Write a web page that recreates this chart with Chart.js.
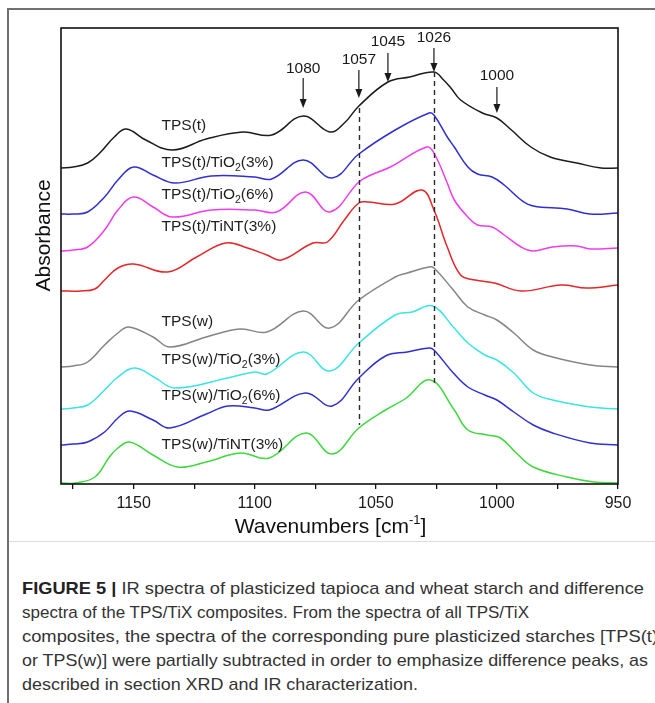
<!DOCTYPE html>
<html><head><meta charset="utf-8">
<script src="https://cdn.jsdelivr.net/npm/chart.js@4.4.1/dist/chart.umd.min.js"></script>
<style>
html,body{margin:0;padding:0;background:#fff;}
#wrap{position:relative;width:655px;height:703px;overflow:hidden;background:#fff;}
#frameTop{position:absolute;left:7px;top:8px;width:648px;height:2px;background:#707070;}
#frameLeft{position:absolute;left:7px;top:8px;width:2px;height:695px;background:#707070;}
#sep{position:absolute;left:9px;top:541px;width:646px;height:1px;background:#dcdcdc;}
#chartBox{position:absolute;left:0;top:0;width:655px;height:560px;}
.cap{position:absolute;left:22px;font-family:'Liberation Sans',Arial,sans-serif;font-size:17px;line-height:24px;color:#333;white-space:nowrap;transform-origin:0 50%;}
.cap b{font-weight:bold;color:#222;}
</style></head>
<body>
<div id="wrap">
  <div id="frameTop"></div><div id="frameLeft"></div><div id="sep"></div>
  <div id="chartBox"><canvas id="c" width="655" height="560"></canvas></div>
  <div class="cap" id="l1" data-w="622" style="top:577px"><b>FIGURE 5 |</b> IR spectra of plasticized tapioca and wheat starch and difference</div>
  <div class="cap" id="l2" data-w="507" style="top:601px">spectra of the TPS/TiX composites. From the spectra of all TPS/TiX</div>
  <div class="cap" id="l3" data-w="636" style="top:625px">composites, the spectra of the corresponding pure plasticized starches [TPS(t)</div>
  <div class="cap" id="l4" data-w="626" style="top:649px">or TPS(w)] were partially subtracted in order to emphasize difference peaks, as</div>
  <div class="cap" id="l5" data-w="396" style="top:673px">described in section XRD and IR characterization.</div>
</div>
<script>
// ---- data (wavenumber in cm-1, absorbance in offset arbitrary units) ----
const tpsT_wn = [1180,1175,1169,1164,1158,1153,1145,1134,1120,1105,1093,1080,1069,1063,1057,1045,1036,1026,1022,1019,1015,1006,1000,994,986,978,967,957,950];
const tpsT_ab = [3.16,3.17,3.21,3.31,3.47,3.55,3.44,3.34,3.45,3.52,3.49,3.68,3.52,3.61,3.78,4.02,4.07,4.12,4.04,3.96,3.84,3.71,3.66,3.54,3.37,3.27,3.21,3.16,3.16];

const tpsTTiO3_wn = [1180,1175,1169,1162,1156.5,1150,1142,1133,1118,1100,1093,1080,1068,1057,1042,1028,1026,1020.5,1017.6,1012,1008,1002,997,990,985,971,961.5,950];
const tpsTTiO3_ab = [2.70,2.70,2.72,2.87,3.04,3.17,3.09,3.01,3.08,3.07,3.05,3.24,3.06,3.30,3.54,3.71,3.69,3.47,3.37,3.17,3.10,3.07,2.99,2.84,2.78,2.75,2.70,2.71];

const tpsTTiO6_wn = [1180,1175,1169,1162,1156.5,1150,1142,1134,1118,1100,1091,1079,1069,1057,1052,1044,1029,1026,1020.5,1017.6,1012,1008,1002,997,990,985,977,967,961.5,950];
const tpsTTiO6_ab = [2.33,2.34,2.37,2.54,2.74,2.87,2.77,2.67,2.74,2.74,2.72,2.92,2.72,3.02,3.09,3.17,3.37,3.31,3.01,2.84,2.67,2.59,2.57,2.49,2.37,2.33,2.37,2.38,2.35,2.36];

const tpsTTiNT_wn = [1180,1172,1166,1162,1156.5,1150,1136,1124,1112,1103,1095,1089,1076,1070,1063,1057,1053,1042,1031,1026,1020.5,1015,1009,1001,990,973.5,963,950];
const tpsTTiNT_ab = [1.93,1.93,1.95,2.04,2.16,2.20,2.12,2.27,2.41,2.36,2.29,2.24,2.41,2.42,2.64,2.81,2.82,2.80,2.94,2.74,2.37,2.09,2.04,2.01,1.93,1.99,1.96,1.99];

const tpsW_wn = [1180,1175,1169,1162,1156.5,1152,1142,1135,1120,1106,1095,1080,1069,1057,1042,1037,1028,1026,1018,1012,1005,1000,993,985,977,961.5,950];
const tpsW_ab = [1.17,1.18,1.22,1.39,1.51,1.57,1.47,1.37,1.47,1.55,1.52,1.73,1.56,1.84,2.07,2.11,2.17,2.16,1.94,1.77,1.69,1.64,1.51,1.34,1.27,1.19,1.17];

const tpsWTiO3_wn = [1180,1175,1169,1162,1156.5,1149.5,1141,1133,1109.5,1100,1095,1080,1069,1057,1042,1035,1026.5,1018,1012,1005,1000,993,985,977,961.5,950];
const tpsWTiO3_ab = [0.75,0.76,0.79,0.94,1.07,1.16,1.06,0.96,1.07,1.12,1.10,1.32,1.13,1.41,1.69,1.72,1.78,1.57,1.41,1.29,1.24,1.11,0.91,0.84,0.77,0.75];

const tpsWTiO6_wn = [1180,1175,1169,1162,1156.5,1151.6,1142,1135,1120,1111,1100,1094,1079,1068,1057,1046,1037,1028,1026,1018,1012,1005,1000,993,985,977,961.5,950];
const tpsWTiO6_ab = [0.39,0.40,0.42,0.52,0.66,0.73,0.64,0.56,0.70,0.78,0.76,0.74,0.91,0.78,1.06,1.28,1.32,1.36,1.34,1.11,0.97,0.89,0.84,0.72,0.59,0.51,0.41,0.39];

const tpsWTiNT_wn = [1180,1174,1166,1160,1156.5,1151.6,1142,1132,1120,1106,1094,1079,1068,1057,1046,1038,1027.5,1017.6,1012,1004,998.5,992,985,971,960,950];
const tpsWTiNT_ab = [0.01,0.01,0.07,0.27,0.36,0.42,0.29,0.17,0.22,0.31,0.26,0.51,0.30,0.56,0.74,0.85,1.04,0.74,0.54,0.49,0.46,0.31,0.17,0.07,0.02,0.01];

const seriesNames = ['TPS(t)','TPS(t)/TiO₂(3%)','TPS(t)/TiO₂(6%)','TPS(t)/TiNT(3%)','TPS(w)','TPS(w)/TiO₂(3%)','TPS(w)/TiO₂(6%)','TPS(w)/TiNT(3%)'];
const seriesColors = ['#1c1c1c','#2f2fd2','#ec3cec','#e4262a','#858585','#3ce4e4','#2f2fd2','#3ed83e'];
const labelWn = 1138.5;
const labelAb = [3.58,3.21,2.89,2.57,1.62,1.24,0.88,0.39];

const peakWn = [1080,1057,1045,1026,1000];
const peakLabels = ['1080','1057','1045','1026','1000'];
const peakTextAb = [4.155,4.24,4.42,4.465,4.08];
const arrowFromAb = [4.06,4.14,4.31,4.36,3.97];
const arrowToAb = [3.76,3.86,4.02,4.12,3.71];
const dashWn = [1057,1026];
const dashTopAb = [3.76,4.12];
const dashBottomAb = [0.59,0.97];

const xTicks = [950,975,1000,1025,1050,1075,1100,1125,1150,1175];
const xMin = 950, xMax = 1180, yMin = 0, yMax = 4.56;

// ---- build ----
const wnSets = [tpsT_wn,tpsTTiO3_wn,tpsTTiO6_wn,tpsTTiNT_wn,tpsW_wn,tpsWTiO3_wn,tpsWTiO6_wn,tpsWTiNT_wn];
const abSets = [tpsT_ab,tpsTTiO3_ab,tpsTTiO6_ab,tpsTTiNT_ab,tpsW_ab,tpsWTiO3_ab,tpsWTiO6_ab,tpsWTiNT_ab];
const datasets = seriesNames.map((n,k)=>({
  label:n,
  data: wnSets[k].map((w,i)=>({x:w,y:abSets[k][i]})),
  borderColor: seriesColors[k],
  borderWidth: 1.5,
  pointRadius: 0,
  fill:false,
  tension:0.4
}));

const FONT = "'Liberation Sans', Arial, Helvetica, sans-serif";

function drawRich(ctx, text, x, y, size, align){
  const parts = text.split('₂');
  const sub = size*0.68;
  let total = 0;
  parts.forEach((p,i)=>{ ctx.font = size+'px '+FONT; total += ctx.measureText(p).width;
    if(i<parts.length-1){ ctx.font = sub+'px '+FONT; total += ctx.measureText('2').width; }});
  let cx = align==='center' ? x - total/2 : x;
  ctx.textBaseline='middle'; ctx.textAlign='left';
  parts.forEach((p,i)=>{
    ctx.font = size+'px '+FONT; ctx.fillText(p,cx,y); cx += ctx.measureText(p).width;
    if(i<parts.length-1){ ctx.font = sub+'px '+FONT; ctx.fillText('2',cx,y+size*0.32); cx += ctx.measureText('2').width; }
  });
}

const annot = {
  id:'annot',
  afterDatasetsDraw(chart){
    const {ctx, chartArea:a, scales:{x,y}} = chart;
    ctx.save();
    ctx.strokeStyle='#111'; ctx.lineWidth=1.6;
    ctx.strokeRect(a.left, a.top, a.right-a.left, a.bottom-a.top);
    ctx.setLineDash([5,4]); ctx.lineWidth=1.4; ctx.strokeStyle='#2a2a2a';
    dashWn.forEach((w,i)=>{
      const px = Math.round(x.getPixelForValue(w))+0.5;
      ctx.beginPath(); ctx.moveTo(px, y.getPixelForValue(dashTopAb[i])); ctx.lineTo(px, y.getPixelForValue(dashBottomAb[i])); ctx.stroke();
    });
    ctx.setLineDash([]);
    ctx.fillStyle='#1a1a1a'; ctx.strokeStyle='#1a1a1a'; ctx.lineWidth=1.2;
    peakWn.forEach((w,i)=>{
      const px = x.getPixelForValue(w);
      const y1 = y.getPixelForValue(arrowFromAb[i]), y2 = y.getPixelForValue(arrowToAb[i]);
      ctx.beginPath(); ctx.moveTo(px,y1); ctx.lineTo(px,y2-8); ctx.stroke();
      ctx.beginPath(); ctx.moveTo(px-3.5,y2-9); ctx.lineTo(px+3.5,y2-9); ctx.lineTo(px,y2); ctx.closePath(); ctx.fill();
      drawRich(ctx, peakLabels[i], px, y.getPixelForValue(peakTextAb[i]), 15.5, 'center');
    });
    ctx.fillStyle='#1e1e1e';
    seriesNames.forEach((n,i)=>{
      drawRich(ctx, n, x.getPixelForValue(labelWn), y.getPixelForValue(labelAb[i]), 15.5, 'left');
    });
    ctx.fillStyle='#111';
    ctx.save();
    ctx.translate(a.left-17, a.top + (a.bottom-a.top)*0.455);
    ctx.rotate(-Math.PI/2);
    ctx.font='21px '+FONT; ctx.textAlign='center'; ctx.textBaseline='middle';
    ctx.fillText('Absorbance',0,0);
    ctx.restore();
    const t1='Wavenumbers [cm', t2='-1', t3=']';
    ctx.font='21px '+FONT; const w1=ctx.measureText(t1).width, w3=ctx.measureText(t3).width;
    ctx.font='13px '+FONT; const w2=ctx.measureText(t2).width;
    let sx = (a.left+a.right)/2 - 9 - (w1+w2+w3)/2; const ty = a.bottom + 43;
    ctx.textAlign='left'; ctx.textBaseline='middle';
    ctx.font='21px '+FONT; ctx.fillText(t1,sx,ty); sx+=w1;
    ctx.font='13px '+FONT; ctx.fillText(t2,sx,ty-7); sx+=w2;
    ctx.font='21px '+FONT; ctx.fillText(t3,sx,ty);
    ctx.restore();
  }
};

new Chart(document.getElementById('c'), {
  type:'line',
  data:{datasets},
  plugins:[annot],
  options:{
    responsive:false, devicePixelRatio:1, animation:false,
    layout:{padding:{left:0,top:28,right:37,bottom:0}},
    plugins:{legend:{display:false}, tooltip:{enabled:false}},
    scales:{
      x:{type:'linear', reverse:true, min:xMin, max:xMax, position:'bottom',
        afterBuildTicks:s=>{ s.ticks = xTicks.map(v=>({value:v})); },
        afterFit:s=>{ s.height = 76; },
        ticks:{autoSkip:false, maxRotation:0, padding:5, color:'#1a1a1a',
          font:{family:FONT,size:16},
          callback:v=> (v%50===0 ? String(v) : '')},
        grid:{display:true, drawOnChartArea:false, drawTicks:true, tickLength:5, color:'#111', lineWidth:1.3},
        border:{display:false}
      },
      y:{type:'linear', min:yMin, max:yMax,
        afterFit:s=>{ s.width = 61; },
        ticks:{display:false}, grid:{display:false, drawTicks:false}, border:{display:false}
      }
    }
  }
});

document.querySelectorAll('.cap').forEach(el=>{
  const w = el.getBoundingClientRect().width;
  const t = +el.dataset.w;
  el.style.transform = 'scaleX(' + (t/w) + ')';
});
</script>
</body></html>
